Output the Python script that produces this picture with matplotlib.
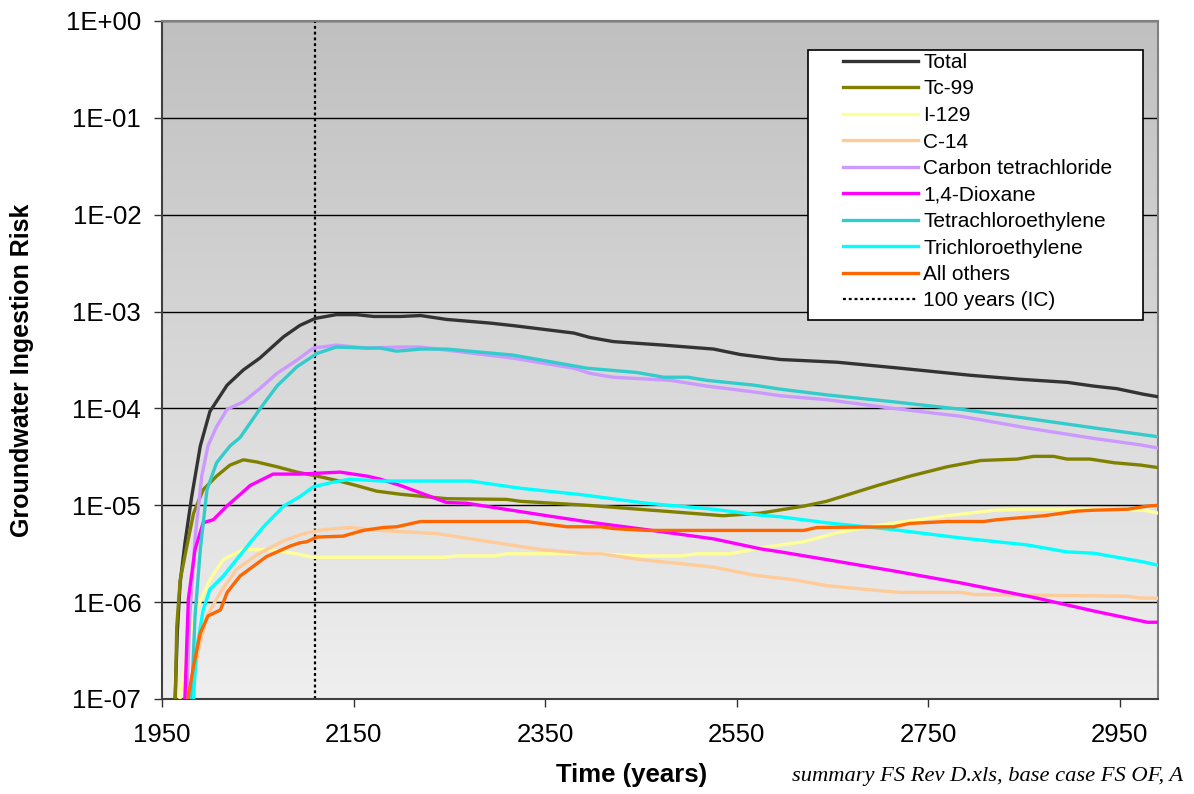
import numpy as np
import matplotlib
matplotlib.use('Agg')
import matplotlib.pyplot as plt
from matplotlib.colors import LinearSegmentedColormap
from matplotlib.patches import Rectangle
from matplotlib.ticker import FixedLocator, FuncFormatter

plt.rcParams['font.family'] = ['Liberation Sans', 'DejaVu Sans']

# ---- data (year, groundwater ingestion risk) ----
total_yr = [1963, 1966, 1969, 1974, 1981, 1990, 2000, 2018, 2035, 2052, 2077, 2094,
            2110, 2132, 2153, 2171, 2199, 2220, 2247, 2293, 2320, 2380, 2397, 2421,
            2474, 2526, 2554, 2596, 2655, 2721, 2794, 2846, 2895, 2923, 2947, 2975, 2990]
total = [6.3e-8, 5.0e-7, 1.6e-6, 4.1e-6, 1.23e-5, 4.1e-5, 9.3e-5, 1.74e-4, 2.5e-4, 3.3e-4,
         5.5e-4, 7.2e-4, 8.5e-4, 9.3e-4, 9.3e-4, 8.9e-4, 8.9e-4, 9.1e-4, 8.3e-4, 7.6e-4,
         7.1e-4, 6.0e-4, 5.4e-4, 4.9e-4, 4.5e-4, 4.1e-4, 3.6e-4, 3.2e-4, 3.0e-4, 2.6e-4,
         2.2e-4, 2.0e-4, 1.86e-4, 1.7e-4, 1.6e-4, 1.4e-4, 1.32e-4]

tc99_yr = [1962, 1964, 1965.4, 1969, 1976, 1983, 1993, 2007, 2021, 2035, 2049, 2070, 2091,
           2112, 2133, 2153, 2174, 2199, 2247, 2310, 2324, 2394, 2474, 2536, 2575, 2620,
           2644, 2697, 2731, 2770, 2805, 2843, 2860, 2881, 2895, 2919, 2944, 2972, 2990]
tc99 = [6.3e-8, 1.07e-7, 5.6e-7, 1.7e-6, 3.8e-6, 8.3e-6, 1.45e-5, 2.0e-5, 2.6e-5, 2.95e-5,
        2.8e-5, 2.5e-5, 2.2e-5, 2.0e-5, 1.8e-5, 1.6e-5, 1.4e-5, 1.3e-5, 1.17e-5, 1.15e-5,
        1.1e-5, 1.0e-5, 8.7e-6, 7.8e-6, 8.3e-6, 9.8e-6, 1.1e-5, 1.6e-5, 2.0e-5, 2.5e-5,
        2.9e-5, 3.0e-5, 3.2e-5, 3.2e-5, 3.0e-5, 3.0e-5, 2.75e-5, 2.6e-5, 2.45e-5]

i129_yr = [1967, 1969, 1976, 1986, 2000, 2014, 2035, 2059, 2087, 2108, 2199, 2244, 2258,
           2297, 2310, 2401, 2449, 2491, 2509, 2543, 2575, 2596, 2620, 2655, 2697, 2731,
           2770, 2819, 2853, 2923, 2975, 2990]
i129 = [6.3e-8, 1.07e-7, 3.2e-7, 8.3e-7, 1.7e-6, 2.75e-6, 3.5e-6, 3.5e-6, 3.2e-6, 2.9e-6,
        2.9e-6, 2.9e-6, 3.0e-6, 3.0e-6, 3.16e-6, 3.16e-6, 3.0e-6, 3.0e-6, 3.16e-6, 3.16e-6,
        3.6e-6, 3.9e-6, 4.2e-6, 5.2e-6, 6.2e-6, 6.9e-6, 7.8e-6, 8.9e-6, 9.1e-6, 9.1e-6,
        8.9e-6, 8.3e-6]

c14_yr = [1979, 1981, 1988, 1997, 2011, 2028, 2052, 2077, 2098, 2118, 2146, 2178, 2237,
          2299, 2345, 2394, 2408, 2449, 2491, 2526, 2568, 2610, 2644, 2697, 2721, 2784,
          2798, 2958, 2972, 2990]
c14 = [6.3e-8, 1.07e-7, 3.2e-7, 7.2e-7, 1.26e-6, 2.2e-6, 3.2e-6, 4.3e-6, 5.1e-6, 5.6e-6,
       5.9e-6, 5.5e-6, 5.1e-6, 4.1e-6, 3.5e-6, 3.16e-6, 3.16e-6, 2.75e-6, 2.5e-6, 2.3e-6,
       1.9e-6, 1.7e-6, 1.48e-6, 1.32e-6, 1.26e-6, 1.26e-6, 1.2e-6, 1.15e-6, 1.1e-6, 1.1e-6]

ctet_yr = [1974.5, 1976, 1979, 1984.5, 1991.5, 1998, 2007, 2018, 2035, 2052, 2070, 2091,
           2108, 2132, 2164, 2195, 2220, 2247, 2317, 2380, 2397, 2421, 2481, 2519, 2568,
           2596, 2644, 2714, 2784, 2853, 2923, 2972, 2990]
ctet = [6.3e-8, 1.07e-7, 7.2e-7, 4.5e-6, 2.0e-5, 4.1e-5, 6.5e-5, 9.8e-5, 1.17e-4, 1.6e-4,
        2.3e-4, 3.16e-4, 4.2e-4, 4.5e-4, 4.2e-4, 4.3e-4, 4.3e-4, 4.0e-4, 3.3e-4, 2.6e-4,
        2.3e-4, 2.1e-4, 1.95e-4, 1.7e-4, 1.48e-4, 1.35e-4, 1.23e-4, 1.0e-4, 8.3e-5, 6.3e-5,
        4.9e-5, 4.2e-5, 3.9e-5]

diox_yr = [1972.5, 1974, 1977.5, 1984.5, 1993, 2003.6, 2017.6, 2031.5, 2042, 2066, 2094,
           2136, 2164, 2178, 2199, 2247, 2268, 2352, 2401, 2456, 2526, 2575, 2596, 2644,
           2714, 2784, 2860, 2923, 2979, 2990]
diox = [6.3e-8, 1.07e-7, 1.07e-6, 3.5e-6, 6.6e-6, 7.1e-6, 9.8e-6, 1.29e-5, 1.6e-5, 2.1e-5,
        2.1e-5, 2.2e-5, 2.0e-5, 1.86e-5, 1.6e-5, 1.07e-5, 1.05e-5, 7.8e-6, 6.6e-6, 5.6e-6,
        4.5e-6, 3.55e-6, 3.3e-6, 2.75e-6, 2.1e-6, 1.58e-6, 1.12e-6, 8.1e-7, 6.2e-7, 6.2e-7]

pce_yr = [1980, 1981, 1984.5, 1990, 1997, 2007, 2021, 2031.5, 2052, 2070, 2091, 2112, 2132,
          2164, 2178, 2195, 2220, 2247, 2317, 2394, 2446, 2474, 2499, 2519, 2568, 2596,
          2644, 2714, 2784, 2853, 2923, 2990]
pce = [6.3e-8, 1.07e-7, 7.2e-7, 3.5e-6, 1.45e-5, 2.75e-5, 4.1e-5, 5.0e-5, 9.8e-5, 1.7e-4,
       2.7e-4, 3.7e-4, 4.3e-4, 4.2e-4, 4.2e-4, 3.9e-4, 4.1e-4, 4.1e-4, 3.55e-4, 2.6e-4,
       2.35e-4, 2.1e-4, 2.1e-4, 1.95e-4, 1.74e-4, 1.58e-4, 1.38e-4, 1.17e-4, 9.8e-5, 7.9e-5,
       6.3e-5, 5.1e-5]

tce_yr = [1981.5, 1983, 1986, 1993, 2000, 2014, 2042, 2056, 2077, 2094, 2108, 2125, 2146,
          2178, 2272, 2324, 2387, 2456, 2526, 2575, 2596, 2644, 2714, 2784, 2853, 2895,
          2923, 2975, 2990]
tce = [6.3e-8, 1.07e-7, 3.2e-7, 8.3e-7, 1.35e-6, 1.86e-6, 4.1e-6, 6.0e-6, 9.8e-6, 1.23e-5,
       1.55e-5, 1.7e-5, 1.86e-5, 1.78e-5, 1.78e-5, 1.5e-5, 1.29e-5, 1.05e-5, 9.1e-6, 7.9e-6,
       7.6e-6, 6.6e-6, 5.6e-6, 4.6e-6, 3.9e-6, 3.3e-6, 3.2e-6, 2.6e-6, 2.4e-6]

other_yr = [1976, 1977.5, 1983, 1990, 1998, 2011, 2018, 2031.5, 2059, 2084, 2094, 2101,
            2112, 2139, 2160, 2181, 2195, 2220, 2331, 2345, 2373, 2408, 2421, 2456, 2620,
            2634, 2714, 2731, 2770, 2808, 2822, 2871, 2905, 2923, 2958, 2979, 2990]
other = [6.3e-8, 1.07e-7, 2.2e-7, 4.8e-7, 7.2e-7, 8.3e-7, 1.26e-6, 1.86e-6, 2.95e-6, 3.8e-6,
         4.1e-6, 4.2e-6, 4.7e-6, 4.8e-6, 5.5e-6, 5.9e-6, 6.0e-6, 6.8e-6, 6.8e-6, 6.5e-6,
         6.0e-6, 6.0e-6, 5.75e-6, 5.5e-6, 5.5e-6, 5.9e-6, 6.0e-6, 6.5e-6, 6.8e-6, 6.8e-6,
         7.1e-6, 7.8e-6, 8.7e-6, 8.9e-6, 9.1e-6, 9.8e-6, 1.0e-5]

IC_YEAR = 2110
series = [
    ('Total', total_yr, total, '#333333'),
    ('Tc-99', tc99_yr, tc99, '#808000'),
    ('I-129', i129_yr, i129, '#FFFF99'),
    ('C-14', c14_yr, c14, '#FFCC99'),
    ('Carbon tetrachloride', ctet_yr, ctet, '#CC99FF'),
    ('1,4-Dioxane', diox_yr, diox, '#FF00FF'),
    ('Tetrachloroethylene', pce_yr, pce, '#33CCCC'),
    ('Trichloroethylene', tce_yr, tce, '#00FFFF'),
    ('All others', other_yr, other, '#FF6600'),
]
x_ticks = [1950, 2150, 2350, 2550, 2750, 2950]
y_ticks = [1e-7, 1e-6, 1e-5, 1e-4, 1e-3, 1e-2, 1e-1, 1e0]

W, H = 1194, 794
fig = plt.figure(figsize=(W / 100, H / 100), dpi=100)
ax = fig.add_axes([162 / W, 1 - 699 / H, (1158 - 162) / W, (699 - 21) / H])

grad = LinearSegmentedColormap.from_list('bg', ['#efefef', '#c0c0c0'])
ax.imshow(np.linspace(0, 1, 256).reshape(-1, 1), cmap=grad, origin='lower',
          extent=[0, 1, 0, 1], transform=ax.transAxes, aspect='auto', zorder=0)

handles = []
for name, xs, ys, col in series:
    ln, = ax.plot(xs, ys, color=col, lw=2.4, label=name, zorder=3,
                  solid_joinstyle='round')
    handles.append(ln)
ic = ax.axvline(IC_YEAR, color='black', lw=1.6, ls=(0, (1.3, 1.3)), zorder=2.5,
                label='100 years (IC)')
handles.append(ic)

ax.set_yscale('log')
ax.set_xlim(1950, 2990)
ax.set_ylim(1e-7, 1e0)
ax.yaxis.set_major_locator(FixedLocator(y_ticks))
ax.yaxis.set_minor_locator(FixedLocator([]))
ax.yaxis.set_major_formatter(FuncFormatter(lambda v, p: f"1E{int(round(np.log10(v))):+03d}"))
ax.set_xticks(x_ticks)
ax.tick_params(axis='both', direction='out', length=6, width=1, color='#333333',
               labelsize=18.5)
ax.tick_params(axis='y', pad=9)
ax.tick_params(axis='x', pad=11)

ax.set_axisbelow(True)
ax.yaxis.grid(True, color='black', lw=1.0)
for s in ['left', 'bottom']:
    ax.spines[s].set_color('#404040'); ax.spines[s].set_linewidth(1.5)
for s in ['top', 'right']:
    ax.spines[s].set_color('#808080'); ax.spines[s].set_linewidth(1.5)

fig.text(22 / W, 1 - 370 / H, 'Groundwater Ingestion Risk', rotation=90,
         ha='center', va='center', fontsize=18, fontweight='bold')
fig.text(632 / W, 1 - 775 / H, 'Time (years)', ha='center', va='center',
         fontsize=18.5, fontweight='bold')
fig.text(1183 / W, 1 - 776 / H, 'summary FS Rev D.xls, base case FS OF, A',
         ha='right', va='center', fontsize=16.2, style='italic',
         family=['Liberation Serif', 'DejaVu Serif'])

# legend box drawn separately so its padding can follow the original
fig.patches.append(Rectangle((808 / W, 1 - 320 / H), 335 / W, 270 / H,
                             transform=fig.transFigure, facecolor='white',
                             edgecolor='black', lw=1.2, zorder=5))
leg = fig.legend(handles=handles, loc='upper left',
                 bbox_to_anchor=(843 / W, 1 - 53 / H), bbox_transform=fig.transFigure,
                 frameon=False, fontsize=15, handlelength=3.6, handletextpad=0.25,
                 labelspacing=0.36, borderpad=0, borderaxespad=0)
leg.set_zorder(6)

fig.savefig('out.png', dpi=100)
